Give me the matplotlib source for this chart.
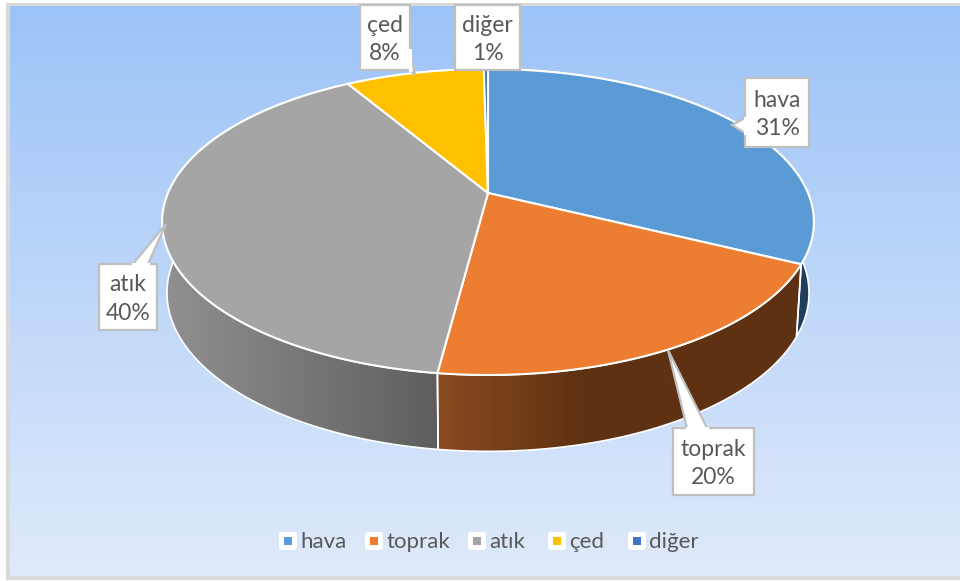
import numpy as np
from matplotlib import pyplot as plt
from matplotlib.patches import Polygon, Rectangle, FancyBboxPatch

plt.rcParams['font.family'] = ['Lato', 'DejaVu Sans']

categories = ["hava", "toprak", "atık", "çed", "diğer"]
shares = [32.3, 19.75, 39.45, 8.25, 0.25]
pct_labels = ["31%", "20%", "40%", "8%", "1%"]
colors = ["#5B9BD5", "#ED7D31", "#A5A5A5", "#FFC000", "#4472C4"]

# wall colours, left and right end of each gradient
wall_left = ["#1F3F5E", "#8A4B1F", "#919191", "#997300", "#27457A"]
wall_right = ["#1F3F5E", "#5E3112", "#5E5E5E", "#997300", "#27457A"]

text_col = "#595959"
cx, cy = 488, 193
rx, ry, tilt = 320, 147.5, 0.1895
depth, shrink_x, stretch_y = 70, 0.985, 1.035


def rim(theta, sx=1.0, sy=1.0, drop=0.0):
    u, v = np.sin(theta), np.cos(theta)
    w = 1 + tilt * v
    return np.column_stack([cx + sx * rx * u / w, cy + drop - sy * ry * v / w])


def hex_rgb(c):
    return np.array([int(c[i:i + 2], 16) / 255 for i in (1, 3, 5)])


fig = plt.figure(figsize=(9.6, 5.81), dpi=100)
ax = fig.add_axes([0, 0, 1, 1])
ax.axis("off")

# chart background
ax.add_patch(Rectangle((7.5, 4.5), 960, 573, fc="#D9D9D9", ec="#D9D9D9", lw=3, zorder=0))
top_c, bot_c = hex_rgb("#9CC3F7"), hex_rgb("#DFEAFA")
ramp = np.linspace(0, 1, 256)[:, None, None]
ax.imshow(top_c + (bot_c - top_c) * ramp, extent=(10, 960, 576, 6), aspect="auto", zorder=1)

edges = np.radians(np.concatenate([[0], np.cumsum(shares)]) * 3.6)

# side walls
for i in range(len(shares)):
    th = np.linspace(edges[i], edges[i + 1], 150)
    up = rim(th)
    low = rim(th, shrink_x, stretch_y, depth)
    poly = Polygon(np.vstack([up, low[::-1]]), closed=True, fc="none", ec="none", zorder=2)
    ax.add_patch(poly)
    x0, x1 = min(up[:, 0].min(), low[:, 0].min()), max(up[:, 0].max(), low[:, 0].max())
    a, b = hex_rgb(wall_left[i]), hex_rgb(wall_right[i])
    # brown wall reaches its dark shade before the middle of the span
    end = 0.4 if i == 1 else 1.0
    t = np.clip(np.linspace(0, 1, 256) / end, 0, 1)[None, :, None]
    im = ax.imshow(a + (b - a) * t, extent=(x0, x1, 460, 60), aspect="auto", zorder=2)
    im.set_clip_path(poly)
    ax.add_patch(Polygon(np.vstack([up, low[::-1]]), closed=True, fc="none", ec="white", lw=1.2, zorder=3))

# top of the pie
for i in range(len(shares)):
    th = np.linspace(edges[i], edges[i + 1], 150)
    pts = np.vstack([[cx, cy], rim(th)])
    ax.add_patch(Polygon(pts, closed=True, fc=colors[i], ec="white", lw=1.5, joinstyle="round", zorder=4))

# callouts: box x0, y0, x1, y1, then pointer base and tip
boxes = [(745, 78, 809, 147), (673, 428, 754, 495), (99, 264, 157, 330), (360, 5, 410, 70), (455, 5, 520, 70)]
pointers = [
    [(745, 133), (732, 125), (745, 118)],
    [(687, 428), (668, 350), (707, 428)],
    [(133, 264), (166, 224), (148, 264)],
    [(410, 50), (415, 75), (410, 70)],
    [],
]
for i, (x0, y0, x1, y1) in enumerate(boxes):
    ax.add_patch(Rectangle((x0, y0), x1 - x0, y1 - y0, fc="white", ec="#BFBFBF", lw=1.6, zorder=5))
    if pointers[i]:
        ax.add_patch(Polygon(pointers[i], closed=False, fc="white", ec="#BFBFBF", lw=1.6, zorder=5))
        base = pointers[i]
        ax.plot([base[0][0], base[2][0]], [base[0][1], base[2][1]], color="white", lw=2.2, zorder=6)
    ax.text((x0 + x1) / 2, (y0 + y1) / 2 + 2, categories[i] + "\n" + pct_labels[i], ha="center", va="center",
            fontsize=16.5, color=text_col, linespacing=1.45, zorder=7)

# legend
legend_x = [288, 374, 477, 557, 637]
legend_y = 541
for i, name in enumerate(categories):
    x = legend_x[i]
    ax.add_patch(FancyBboxPatch((x - 7, legend_y - 7), 14, 14, boxstyle="round,pad=2,rounding_size=3",
                                fc="white", ec="none", zorder=5))
    ax.add_patch(Rectangle((x - 4, legend_y - 4), 8, 8, fc=colors[i], ec="none", zorder=6))
    ax.text(x + 12.5, legend_y + 1, name, ha="left", va="center", fontsize=16, color=text_col, zorder=7)

ax.set_xlim(0, 960)
ax.set_ylim(581, 0)
fig.savefig("out.png", dpi=100)
